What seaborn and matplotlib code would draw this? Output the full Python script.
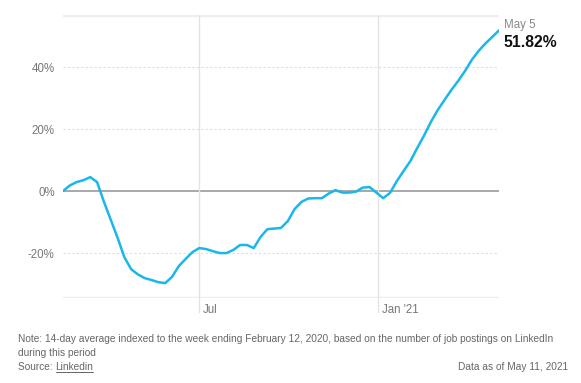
import pandas as pd
import numpy as np
import matplotlib.pyplot as plt
import matplotlib.dates as mdates
from matplotlib.transforms import ScaledTranslation
import seaborn as sns

# Weekly LinkedIn job postings index, Feb 12 2020 -> May 5 2021
start_date = "2020-02-12"
n_weeks = 65
change_pct = [
    0.0, 1.8, 2.9, 3.5, 4.5, 2.9, -3.4, -9.2, -15.0, -21.3,
    -25.2, -26.9, -28.1, -28.7, -29.4, -29.7, -27.7, -24.2, -21.9, -19.7,
    -18.4, -18.7, -19.4, -20.0, -20.0, -19.0, -17.4, -17.4, -18.4, -14.8,
    -12.3, -12.1, -11.9, -9.7, -5.8, -3.5, -2.4, -2.3, -2.3, -0.8,
    0.3, -0.5, -0.5, -0.2, 1.1, 1.3, -0.5, -2.3, -0.6, 3.2,
    6.5, 9.7, 13.9, 17.9, 22.3, 26.1, 29.4, 32.6, 35.5, 38.7,
    42.3, 45.2, 47.6, 49.7, 51.82,
]
ytick_vals = [-20, 0, 20, 40]
ytick_labels = ["-20%", "0%", "20%", "40%"]
xtick_dates = ["2020-07-01", "2021-01-01"]
xtick_labels = ["Jul", "Jan '21"]

df = pd.DataFrame({
    "date": pd.date_range(start_date, periods=n_weeks, freq="7D"),
    "change": change_pct,
})

sns.set_style("white")
plt.rcParams["font.family"] = ["Liberation Sans", "DejaVu Sans"]

fig = plt.figure(figsize=(5.81, 3.83), dpi=100)
ax = fig.add_axes([63 / 581, 1 - 298 / 383, 436 / 581, 283 / 383])

grey_txt = "#777777"
line_col = "#1ab7ea"

ax.set_ylim(-34.5, 56.8)
ax.set_xlim(df["date"].iloc[0], df["date"].iloc[-1])

# horizontal grid
for v in ytick_vals:
    if v == 0:
        ax.axhline(0, color="#999999", lw=1.2, zorder=1)
    else:
        ax.axhline(v, color="#dddddd", lw=0.8, ls=(0, (2, 2)), zorder=1)

# vertical month lines that hang below the axis
for d in xtick_dates:
    ax.axvline(pd.Timestamp(d), ymin=-0.05, ymax=1, color="#e3e3e3",
               lw=1, clip_on=False, zorder=1)

# top and bottom frame lines
for sp in ax.spines.values():
    sp.set_visible(False)
ax.axhline(56.8, color="#eeeeee", lw=2.5, zorder=0)
ax.axhline(-34.5, color="#eeeeee", lw=2.5, zorder=0)

sns.lineplot(data=df, x="date", y="change", ax=ax, color=line_col, lw=1.8, zorder=3)

ax.set_yticks(ytick_vals)
ax.set_yticklabels(ytick_labels)
ax.set_xticks([pd.Timestamp(d) for d in xtick_dates])
ax.set_xticklabels(xtick_labels)
ax.tick_params(axis="both", length=0, labelsize=8.3, colors=grey_txt)
ax.tick_params(axis="y", pad=6)
ax.tick_params(axis="x", pad=4)
for lab in ax.get_xticklabels():
    lab.set_ha("left")
    lab.set_transform(lab.get_transform() + ScaledTranslation(4 / 100, 0, fig.dpi_scale_trans))
ax.set_xlabel("")
ax.set_ylabel("")

# end label
last = df.iloc[-1]
ax.annotate("May 5", (last["date"], last["change"]), xytext=(3.5, 4),
            textcoords="offset points", ha="left", va="center",
            fontsize=8.3, color="#888888", annotation_clip=False)
ax.annotate(f"{last['change']:.2f}%", (last["date"], last["change"]), xytext=(3.5, -9),
            textcoords="offset points", ha="left", va="center",
            fontsize=11.3, fontweight="bold", color="#111111", annotation_clip=False)

# footer
foot = "#666666"
fs = 7.3
fig.text(18 / 581, 1 - 339 / 383,
         "Note: 14-day average indexed to the week ending February 12, 2020, based on the number of job postings on LinkedIn",
         fontsize=fs, color=foot, va="center")
fig.text(18 / 581, 1 - 353 / 383, "during this period", fontsize=fs, color=foot, va="center")
src = fig.text(18 / 581, 1 - 367 / 383, "Source: ", fontsize=fs, color=foot, va="center")
fig.canvas.draw()
bb = src.get_window_extent()
link = fig.text(bb.x1 / fig.bbox.width, 1 - 367 / 383, "Linkedin", fontsize=fs, color=foot, va="center")
fig.canvas.draw()
lb = link.get_window_extent()
fig.add_artist(plt.Line2D([lb.x0 / fig.bbox.width, lb.x1 / fig.bbox.width],
                          [(lb.y0 + 0.5) / fig.bbox.height] * 2, color=foot, lw=0.7))
fig.text(568 / 581, 1 - 367 / 383, "Data as of May 11, 2021", fontsize=fs, color=foot,
         va="center", ha="right")

fig.savefig("out.png", dpi=100)
